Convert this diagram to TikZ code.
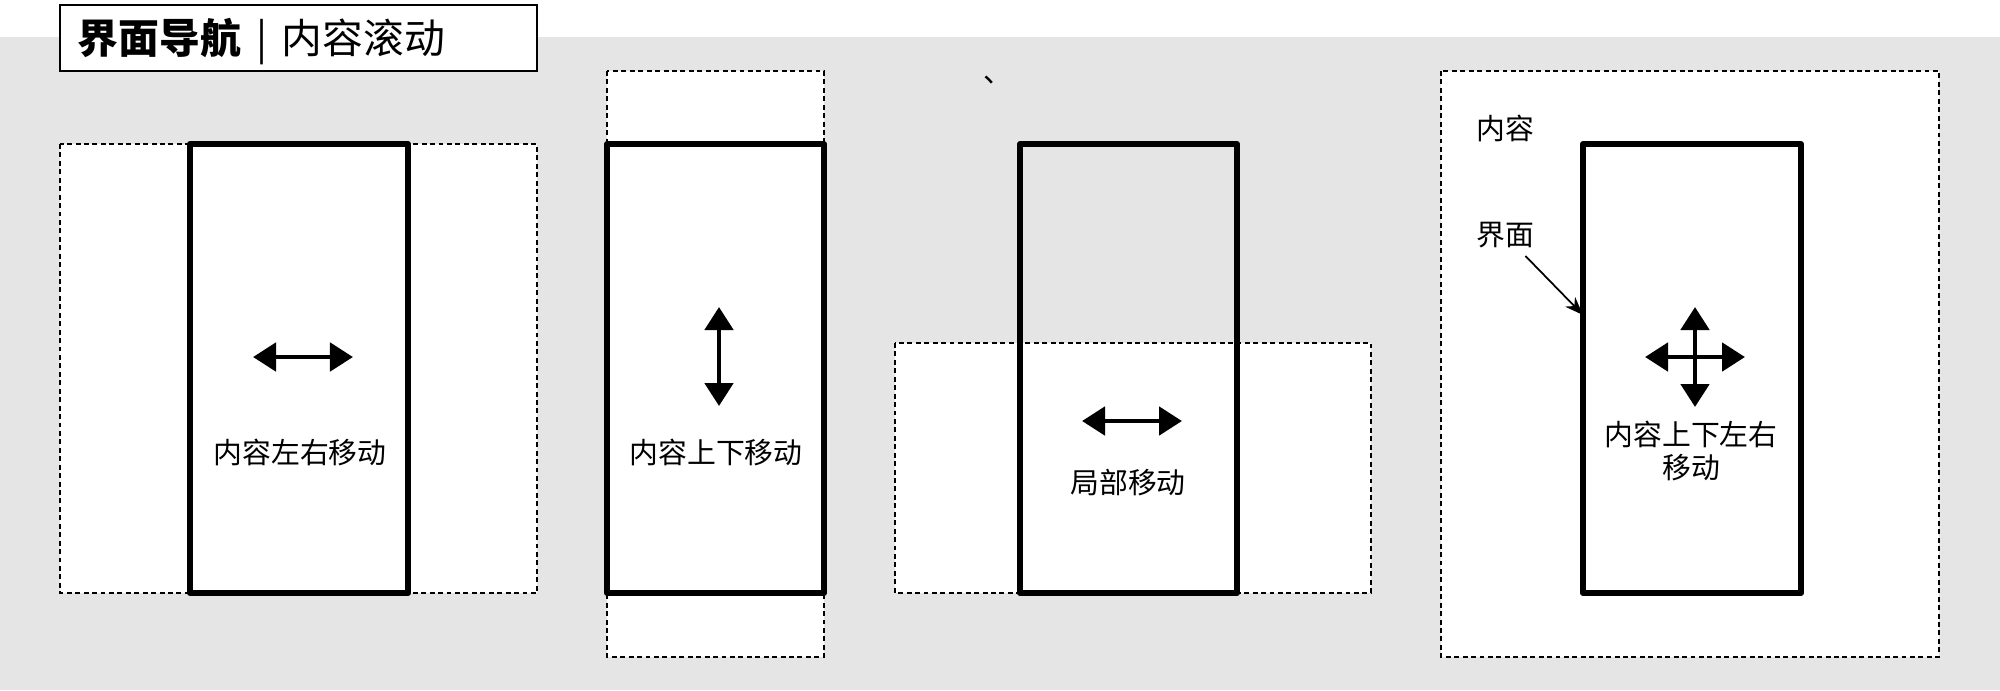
\documentclass[tikz,border=0pt]{standalone}
\usepackage{fontspec}
\setmainfont{Noto Sans CJK SC}
\usetikzlibrary{arrows.meta}
\usetikzlibrary{positioning}

\tikzset{
	screen/.style={draw, line width=1.7pt, line join=round},
	content/.style={draw, fill=white, line width=0.55pt, dash pattern=on 1.4pt off 1pt},
	move/.style={line width=1.4pt, {Triangle[length=0.23cm, width=0.28cm]}-{Triangle[length=0.23cm, width=0.28cm]}},
	lbl/.style={font=\fontsize{8.2pt}{9.6pt}\selectfont, inner sep=1pt, align=center}
}

\begin{document}
\begin{tikzpicture}[x=0.01cm, y=-0.01cm]
			\useasboundingbox (0, 0) rectangle (2000, 690);
			\fill[gray!20] (0, 37) rectangle (2000, 690);
			% title
			\draw[fill=white, line width=0.6pt] (60, 5) rectangle (537, 71);
			\node[anchor=west, inner sep=0pt, font=\fontsize{11.6pt}{13pt}\selectfont] (title) at (77, 42) {{\bfseries 界面导航}\hspace{4.5pt}|\hspace{4pt}内容滚动};
			\node[lbl] (mark) at (998, 80) {、};
			% panel 1: left and right
			\draw[content] (60, 144) rectangle (537, 593);
			\draw[screen, fill=white] (190, 144) rectangle (408, 593);
			\coordinate (p1l) at (253, 357);
			\coordinate (p1r) at (353, 357);
			\draw[move] (p1l) -- (p1r);
			\node[lbl] (lr) at (300, 452) {内容左右移动};
			% panel 2: up and down
			\draw[content] (607, 71) rectangle (824, 657);
			\draw[screen] (607, 144) rectangle (824, 593);
			\coordinate (p2t) at (719, 307);
			\coordinate (p2b) at (719, 406);
			\draw[move] (p2t) -- (p2b);
			\node[lbl] (ud) at (716, 452) {内容上下移动};
			% panel 3: only a part
			\draw[content] (895, 343) rectangle (1371, 593);
			\draw[screen] (1020, 144) rectangle (1237, 593);
			\coordinate (p3l) at (1082, 421);
			\coordinate (p3r) at (1182, 421);
			\draw[move] (p3l) -- (p3r);
			\node[lbl] (part) at (1128, 483) {局部移动};
			% panel 4: all four ways
			\draw[content] (1441, 71) rectangle (1939, 657);
			\draw[screen, fill=white] (1583, 144) rectangle (1801, 593);
			\coordinate (p4t) at (1695, 307);
			\coordinate (p4b) at (1695, 407);
			\coordinate (p4l) at (1645, 357);
			\coordinate (p4r) at (1745, 357);
			\draw[move] (p4t) -- (p4b);
			\draw[move] (p4l) -- (p4r);
			\node[lbl] (all) at (1691, 451) {内容上下左右\\移动};
			\node[lbl] (cont) at (1505, 128) {内容};
			\node[lbl] (iface) at (1505, 235) {界面};
			\coordinate (edge) at (1583, 315);
			\draw[-Stealth, line width=0.5pt, shorten <=1.5pt] (iface) -- (edge);
		\end{tikzpicture}
\end{document}
